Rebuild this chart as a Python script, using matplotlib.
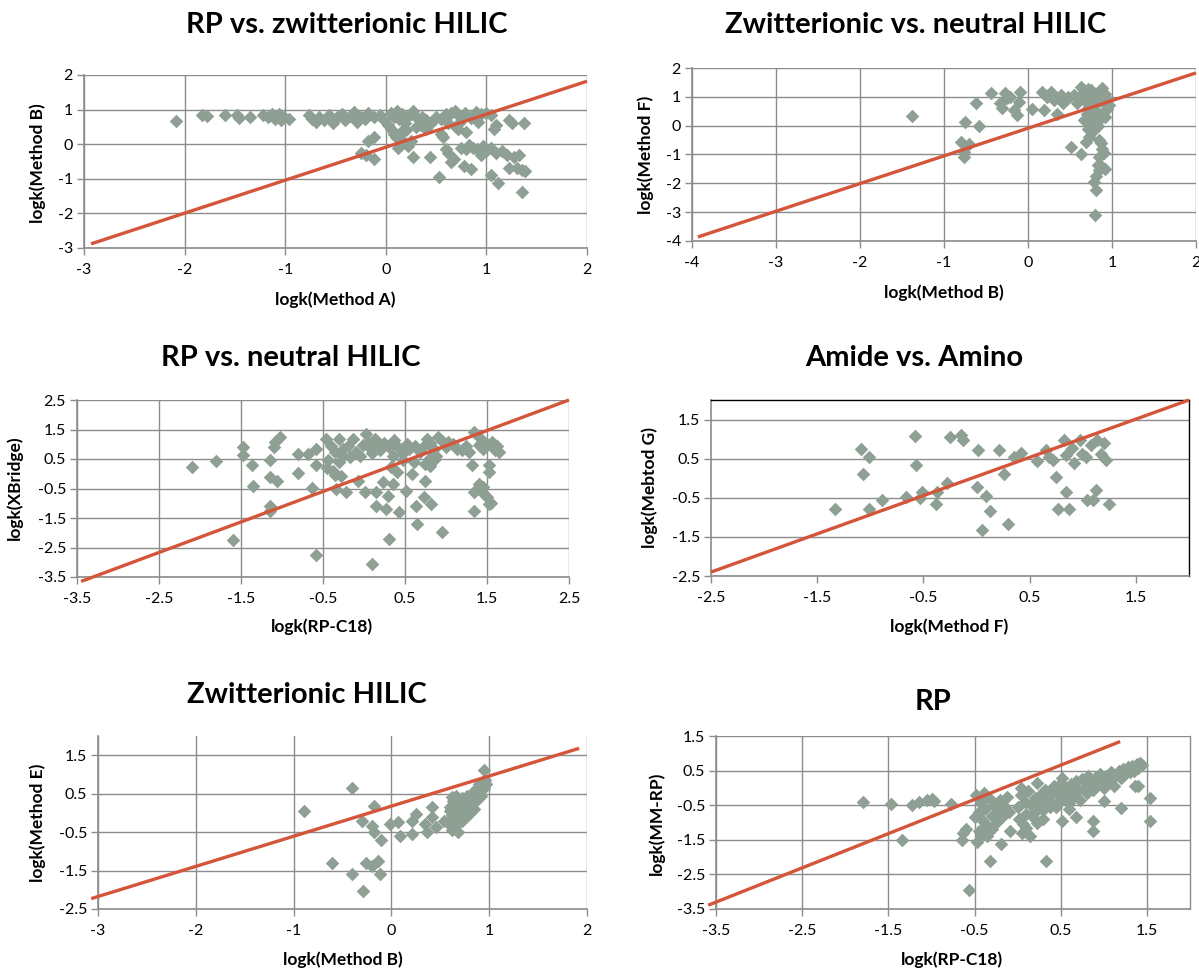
import matplotlib
matplotlib.use("Agg")
import matplotlib.pyplot as plt
from matplotlib.ticker import FixedLocator, FormatStrFormatter

# ---- data (logk values) ----

# RP vs. zwitterionic HILIC
rp_zwit_x = [-2.09, -1.83, -1.78, -1.60, -1.48, -1.46, -1.35, -1.22, -1.17, -1.13, -1.10, -1.06,
             -1.04, -1.01, -0.96, -0.76, -0.73, -0.69, -0.66, -0.61, -0.56, -0.52, -0.49, -0.44,
             -0.41, -0.36, -0.32, -0.29, -0.25, -0.21, -0.18, -0.12, -0.06, -0.02, 0.02, 0.05,
             0.08, 0.11, 0.13, 0.16, 0.19, 0.21, 0.25, 0.27, 0.31, 0.36, 0.40, 0.45, 0.50, 0.55,
             0.60, 0.65, 0.69, 0.74, 0.79, 0.85, 0.90, 0.95, 1.00, 1.05, 0.62, 0.92, 0.73,
             -0.25, -0.18, -0.12, -0.12, -0.20, 0.05, 0.08, 0.10, 0.12, 0.15, 0.18, 0.20, 0.22,
             0.25, 0.27, 0.30, 0.35, 0.40, 0.44, 0.53, 0.55, 0.57, 0.60, 0.62, 0.65, 0.68, 0.70,
             0.72, 0.75, 0.78, 0.80, 0.80, 0.83, 0.85, 0.87, 0.91, 0.95, 0.97, 1.00, 1.05, 1.05,
             1.08, 1.10, 1.10, 1.12, 1.16, 1.20, 1.22, 1.25, 1.22, 1.27, 1.30, 1.32, 1.35, 1.37,
             1.35, 1.38]
rp_zwit_y = [0.67, 0.85, 0.82, 0.84, 0.84, 0.77, 0.78, 0.84, 0.80, 0.86, 0.72, 0.88,
             0.70, 0.80, 0.74, 0.84, 0.72, 0.65, 0.80, 0.70, 0.84, 0.62, 0.80, 0.88,
             0.70, 0.82, 0.93, 0.65, 0.80, 0.74, 0.90, 0.78, 0.85, 0.70, 0.55, 0.90,
             0.80, 0.95, 0.74, 0.86, 0.62, 0.80, 0.88, 0.95, 0.75, 0.80, 0.70, 0.62, 0.80, 0.74,
             0.86, 0.90, 0.95, 0.80, 0.90, 0.76, 0.92, 0.86, 0.90, 0.84, 0.60, 0.65, 0.62,
             -0.26, 0.08, 0.20, -0.43, -0.32, 0.45, 0.30, 0.20, -0.10, 0.35, 0.05, 0.40, -0.05,
             0.10, -0.38, 0.50, 0.55, 0.45, -0.38, -0.95, 0.30, 0.20, -0.15, -0.25, -0.52, -0.44, 0.50,
             0.45, -0.10, -0.62, -0.15, 0.35, -0.02, -0.72, -0.10, -0.15, -0.30, -0.05, -0.20, -0.10, -0.88,
             0.45, 0.55, -0.25, -1.12, -0.20, -0.30, 0.70, 0.62, -0.68, -0.38, -0.70, -0.30, -0.75, 0.60,
             -1.38, -0.78]
rp_zwit_line = ([-2.93, 2.0], [-2.88, 1.82])

# Zwitterionic vs. neutral HILIC
zwit_neut_x = [-1.38, -0.62, -0.44, -0.75, -0.58, -0.80, -0.70, -0.76, -0.76, -0.33, -0.31, -0.27,
               -0.21, -0.17, -0.13, -0.09, -0.11, -0.25, 0.05, 0.17, 0.19, 0.27, 0.23, 0.31, 0.35,
               0.39, 0.47, 0.51, 0.55, 0.60, 0.63, 0.65, 0.67, 0.63, 0.75, 0.70, 0.83, 0.88, 0.94,
               0.92, 0.78, 0.67, 0.71, 0.73, 0.69, 0.85, 0.88, 0.85, 0.83, 0.92, 0.81, 0.79, 0.81,
               0.80, 0.92, 0.94, 0.90, 0.72, 0.75, 0.80, 0.85, 0.78, 0.74, 0.82, 0.86, 0.70, 0.77,
               0.83, 0.88, 0.96, 0.58, 0.48, 0.42, 0.66, 0.72, 0.87, 0.90, 0.86, 0.84]
zwit_neut_y = [0.33, 0.79, 1.15, 0.13, 0.00, -0.57, -0.63, -1.09, -0.90, 0.77, 0.60, 1.12,
               1.00, 0.53, 0.36, 1.17, 0.83, 0.95, 0.59, 1.17, 0.56, 1.17, 1.00, 0.88, 0.42,
               1.06, 0.91, -0.74, 1.05, 0.95, 1.35, 1.15, 0.88, -0.98, 1.23, 1.05, 1.12, 1.29, 0.94,
               1.10, 0.95, 0.19, -0.10, -0.40, -0.57, -0.51, -0.80, -1.09, -1.38, -1.50, -1.73, -1.97, -2.23,
               -3.09, 0.30, 0.59, 0.77, 0.60, 0.35, 0.50, 0.20, 0.10, 0.75, 0.80, 0.40, 0.40, -0.20,
               0.00, 1.00, 0.70, 0.80, 1.00, 0.80, 1.00, 1.28, -0.60, -0.95, -1.35, -1.55]
zwit_neut_line = ([-3.93, 2.0], [-3.86, 1.83])

# RP vs. neutral HILIC
rp_neut_x = [-2.10, -1.80, -1.60, -1.47, -1.48, -1.36, -1.35, -1.15, -1.15, -1.06, -1.15, -1.15,
             -1.10, -1.02, -1.08, -0.81, -0.80, -0.68, -0.63, -0.58, -0.58, -0.58, -0.46, -0.44,
             -0.38, -0.34, -0.28, -0.22, -0.30, -0.26, -0.13, -0.17, -0.07, 0.01, 0.03, -0.01,
             0.13, 0.15, 0.15, 0.10, 0.23, 0.27, 0.29, 0.31, 0.35, 0.37, 0.33, 0.43, 0.51, 0.53,
             0.59, 0.61, 0.65, 0.63, 0.74, 0.73, 0.82, 0.75, 0.77, 0.90, 0.95, 1.02, 1.14, 1.20,
             1.32, 1.34, 1.34, 1.34, 1.40, 1.46, 1.52, 1.52, 1.52, 1.56, 1.60, 1.40, 1.28,
             -0.40, -0.35, -0.20, -0.10, 0.05, 0.08, 0.18, 0.20, 0.25, 0.30, 0.40, 0.45, 0.48,
             0.55, 0.62, 0.68, 0.72, 0.80, 0.85, 0.88, 0.95, 1.00, 1.08, 1.25, 1.45, 1.50, 1.58,
             1.62, 1.65, 1.42, 0.10, -0.05, 0.35, 0.80, -0.25, 0.15,
             -0.45, -0.35, -0.30, 0.40, 0.47, 0.80, 0.85, 1.38, 1.50, 1.55, 1.45]
rp_neut_y = [0.23, 0.42, -2.24, 0.91, 0.63, 0.31, -0.40, 0.48, -0.11, -0.23, -1.08, -1.25,
             0.91, 1.25, 1.08, 0.68, 0.02, 0.68, -0.49, 0.85, 0.28, -2.76, 1.19, 0.45,
             0.11, -0.51, -0.06, -0.63, 1.19, 0.85, 1.19, 0.57, -0.23, -0.63, 1.36, 0.97,
             1.19, -0.63, -1.08, -3.07, -0.28, -1.19, -0.74, -2.22, -0.34, 1.14, 0.23, -1.31, -0.57, 1.02,
             0.00, 0.40, -1.70, -1.08, -0.23, -0.80, -1.02, 0.34, 1.19, 1.25, -1.99, 1.08, 0.85, 0.80,
             0.31, 1.42, -0.63, -1.25, -0.34, -0.68, -1.02, 0.28, 0.06, 1.08, 0.80, 0.97, 0.74,
             0.95, 0.75, 0.95, 0.75, 1.05, 0.85, 1.00, 0.80, 1.05, 0.90, 0.95, 0.80, 0.70,
             0.85, 0.95, 0.75, 0.90, 1.05, 0.85, 0.60, 1.10, 0.90, 1.00, 0.95, 0.85, 1.00, 0.90,
             0.95, 0.75, 1.20, 0.70, 0.60, 0.60, 0.55, 0.60, 0.90,
             0.20, -0.05, 0.40, 0.05, 0.45, 0.25, 0.45, -0.50, -0.80, -1.00, -0.45]
rp_neut_line = ([-3.45, 2.5], [-3.65, 2.5])

# Amide vs. Amino
amide_amino_x = [-1.33, -1.09, -1.07, -1.01, -1.01, -0.89, -0.66, -0.58, -0.57, -0.51, -0.53, -0.38,
                 -0.37, -0.28, -0.25, -0.15, -0.13, 0.01, 0.00, 0.05, 0.09, 0.13, 0.21, 0.26,
                 0.30, 0.35, 0.42, 0.57, 0.65, 0.68, 0.72, 0.75, 0.77, 0.82, 0.84, 0.84, 0.87,
                 0.90, 0.92, 0.97, 0.99, 1.03, 1.04, 1.10, 1.12, 1.13, 1.17, 1.20, 1.22, 1.25, 1.08]
amide_amino_y = [-0.79, 0.74, 0.11, 0.55, -0.79, -0.56, -0.49, 1.08, 0.34, -0.34, -0.51, -0.66,
                 -0.34, -0.13, 1.06, 1.10, 0.99, 0.72, -0.22, -1.32, -0.45, -0.83, 0.72, 0.11,
                 -1.18, 0.53, 0.65, 0.45, 0.72, 0.55, 0.46, 0.04, -0.79, 0.99, -0.34, 0.59, -0.79,
                 0.76, 0.38, 0.97, 0.63, 0.55, -0.56, -0.56, -0.30, 0.97, 0.63, 0.90, 0.46, -0.67, 0.84]
amide_amino_line = ([-2.5, 2.0], [-2.4, 2.0])

# Zwitterionic HILIC
zwit_hilic_x = [-0.89, -0.40, -0.61, -0.40, -0.29, -0.26, -0.20, -0.14, -0.12, -0.11, -0.18, -0.30,
                -0.20, -0.18, -0.01, 0.07, 0.09, 0.21, 0.21, 0.25, 0.34, 0.36, 0.42, 0.42, 0.46,
                0.54, 0.62, 0.62, 0.60,
                0.58, 0.60, 0.62, 0.63, 0.65, 0.65, 0.67, 0.68, 0.70, 0.70, 0.72, 0.72, 0.74,
                0.75, 0.76, 0.77, 0.78, 0.80, 0.80, 0.82, 0.83, 0.84, 0.85, 0.86, 0.87, 0.88,
                0.89, 0.90, 0.91, 0.92, 0.93, 0.94, 0.95, 0.96, 0.97, 0.95, 0.68, 0.62, 0.66]
zwit_hilic_y = [0.06, 0.64, -1.30, -1.60, -2.03, -1.30, -1.37, -1.24, -1.60, -0.70, 0.19, -0.20,
                -0.33, -0.50, -0.28, -0.24, -0.59, -0.54, -0.20, -0.02, -0.28, -0.50, -0.11, 0.15, -0.37,
                -0.20, -0.37, 0.41, 0.15,
                -0.25, 0.05, -0.45, 0.30, -0.10, 0.20, -0.30, 0.35, 0.00, 0.25, -0.20, 0.40, 0.10,
                0.30, -0.10, 0.45, 0.15, 0.35, 0.00, 0.50, 0.25, 0.10, 0.60, 0.40, 0.30, 0.65,
                0.50, 0.75, 0.60, 0.45, 0.70, 0.80, 0.65, 0.85, 0.75, 1.12, -0.50, -0.05, 0.45]
zwit_hilic_line = ([-3.07, 1.92], [-2.23, 1.68])

# RP
rp_mmrp_x = [-1.79, -1.47, -1.23, -1.14, -1.05, -0.99, -0.97, -0.77, -1.34, -0.56, -0.63, -0.64,
             -0.60, -0.47, -0.48, -0.39, -0.32, -0.19, -0.35, -0.09, 0.05, 0.14, 0.33, 0.52,
             0.68, 0.88, 0.88, 1.00, 1.20, 1.36, 1.54, 1.54,
             -0.45, -0.42, -0.40, -0.38, -0.36, -0.33, -0.30, -0.28, -0.25, -0.22, -0.20, -0.18,
             -0.15, -0.12, -0.10, -0.45, -0.42, -0.30, -0.50,
             0.00, 0.02, 0.04, 0.06, 0.08, 0.10, 0.12, 0.15, 0.18, 0.20, 0.22, 0.25, 0.28, 0.30,
             0.32, 0.35, 0.38, 0.40, 0.42, 0.45, 0.48, 0.50, 0.52, 0.55, 0.58, 0.60, 0.62, 0.65,
             0.68, 0.70, 0.72, 0.75, 0.78, 0.80, 0.82, 0.85, 0.88, 0.90, 0.92, 0.95, 0.98, 1.00,
             1.02, 1.05, 1.08, 1.10, 1.12, 1.15, 1.18, 1.20, 1.22, 1.25, 1.28, 1.30, 1.33, 1.35,
             1.38, 1.40, 1.42, 1.44, 1.40, 0.30, 0.10, 0.20, 0.60, 0.45, 0.23, 0.52, 0.04]
rp_mmrp_y = [-0.42, -0.47, -0.49, -0.42, -0.35, -0.33, -0.39, -0.46, -1.50, -2.96, -1.30, -1.50,
             -1.20, -1.55, -0.20, -0.15, -2.10, -1.63, -1.40, -1.24, -1.29, -1.40, -2.10, -0.97,
             -0.83, -0.95, -1.26, -0.37, -0.57, 0.06, -0.30, -0.95,
             -0.70, -0.45, -0.95, -0.60, -1.10, -0.30, -0.80, -0.50, -1.00, -0.65, -0.35, -0.85,
             -0.55, -0.25, -0.70, -1.25, -1.40, -1.20, -0.85,
             -0.55, -0.90, -0.20, -1.05, -0.40, -0.75, -0.10, -0.50, -0.85, -0.30, -1.00, -0.45, -0.15, -0.65,
             -0.05, -0.35, -0.55, -0.20, 0.05, -0.15, -0.40, 0.15, -0.10, -0.30, 0.00, -0.45, 0.10, -0.20,
             0.20, -0.05, -0.35, 0.25, 0.05, -0.15, 0.35, 0.15, -0.05, 0.30, 0.10, 0.40, 0.20, 0.00,
             0.35, 0.15, 0.45, 0.25, 0.05, 0.40, 0.50, 0.30, 0.55, 0.40, 0.60, 0.45, 0.62, 0.50,
             0.68, 0.58, 0.72, 0.65, 0.05, -0.90, -1.15, -0.70, -0.60, -0.55, 0.13, 0.30, -0.01]
rp_mmrp_line = ([-3.59, 1.19], [-3.39, 1.34])

# axis ticks for each panel
int_ticks_1 = [-3, -2, -1, 0, 1, 2]
int_ticks_2 = [-4, -3, -2, -1, 0, 1, 2]
half_ticks_3 = [-3.5, -2.5, -1.5, -0.5, 0.5, 1.5, 2.5]
half_ticks_4 = [-2.5, -1.5, -0.5, 0.5, 1.5]
half_ticks_6x = [-3.5, -2.5, -1.5, -0.5, 0.5, 1.5]
half_ticks_6y = [-3.5, -2.5, -1.5, -0.5, 0.5, 1.5]

# ---- styling ----
plt.rcParams["font.family"] = ["Lato", "DejaVu Sans"]
plt.rcParams["axes.unicode_minus"] = False

FIG_W, FIG_H = 1199, 969
MARKER = "#8E9F94"
LINE = "#D4553A"
GRID = "#8C8C8C"


def fig_pt(x, y):
    """ Pixel position (from top-left) to figure fraction. """
    return x / FIG_W, 1 - y / FIG_H


def draw_panel(fig, box, xs, ys, line, xlim, ylim, xticks, yticks,
               title, title_xy, xlabel, xlabel_xy, ylabel, ylabel_xy,
               vgrid=True, boxed=False, right_edge=False):
    l, r, t, b = box
    ax = fig.add_axes([l / FIG_W, 1 - b / FIG_H, (r - l) / FIG_W, (b - t) / FIG_H])
    ax.scatter(xs, ys, marker="D", s=48, color=MARKER, linewidths=0, zorder=3)
    ax.plot(line[0], line[1], color=LINE, lw=2.4, zorder=4, clip_on=False,
            solid_capstyle="butt")
    ax.set_xlim(xlim)
    ax.set_ylim(ylim)
    ax.xaxis.set_major_locator(FixedLocator(xticks))
    ax.yaxis.set_major_locator(FixedLocator(yticks))
    ax.xaxis.set_major_formatter(FormatStrFormatter("%g"))
    ax.yaxis.set_major_formatter(FormatStrFormatter("%g"))
    ax.set_axisbelow(True)
    ax.grid(axis="y", color=GRID, lw=1)
    if vgrid:
        ax.grid(axis="x", color=GRID, lw=1)
    ax.tick_params(direction="out", length=5, width=1, color=GRID,
                   labelsize=11.5, labelcolor="black")
    ax.tick_params(axis="x", pad=6)
    ax.tick_params(axis="y", pad=3)
    for side in ("left", "bottom"):
        ax.spines[side].set_color(GRID)
        ax.spines[side].set_linewidth(1.2)
    for side in ("top", "right"):
        if boxed:
            ax.spines[side].set_color("black")
            ax.spines[side].set_linewidth(1.0)
        else:
            ax.spines[side].set_visible(False)
    if right_edge:
        ax.spines["right"].set_visible(True)
        ax.spines["right"].set_color(GRID)
        ax.spines["right"].set_linewidth(1)
    fig.text(*fig_pt(*title_xy), title, ha="center", va="center",
             fontsize=21, fontweight="bold")
    fig.text(*fig_pt(*xlabel_xy), xlabel, ha="center", va="center",
             fontsize=12.5, fontweight="bold")
    fig.text(*fig_pt(*ylabel_xy), ylabel, ha="center", va="center",
             fontsize=12.5, fontweight="bold", rotation=90)
    return ax


fig = plt.figure(figsize=(FIG_W / 100, FIG_H / 100), dpi=100)

draw_panel(fig, (84, 587, 75, 248), rp_zwit_x, rp_zwit_y, rp_zwit_line,
           (-3, 2), (-3, 2), int_ticks_1, int_ticks_1,
           "RP vs. zwitterionic HILIC", (347, 25),
           "logk(Method A)", (335, 300), "logk(Method B)", (38, 163))

draw_panel(fig, (692, 1196, 68, 241), zwit_neut_x, zwit_neut_y, zwit_neut_line,
           (-4, 2), (-4, 2), int_ticks_2, int_ticks_2,
           "Zwitterionic vs. neutral HILIC", (916, 25),
           "logk(Method B)", (944, 293), "logk(Method F)", (646, 155))

draw_panel(fig, (77, 569, 400, 577), rp_neut_x, rp_neut_y, rp_neut_line,
           (-3.5, 2.5), (-3.5, 2.5), half_ticks_3, half_ticks_3,
           "RP vs. neutral HILIC", (291, 358),
           "logk(RP-C18)", (322, 627), "logk(XBridge)", (15, 488))

draw_panel(fig, (711, 1189, 400, 576), amide_amino_x, amide_amino_y, amide_amino_line,
           (-2.5, 2.0), (-2.5, 2.0), half_ticks_4, half_ticks_4,
           "Amide vs. Amino", (914, 358),
           "logk(Method F)", (949, 627), "logk(Mebtod G)", (650, 488),
           vgrid=False, boxed=True)

draw_panel(fig, (98, 587, 736, 909), zwit_hilic_x, zwit_hilic_y, zwit_hilic_line,
           (-3, 2), (-2.5, 2.0), int_ticks_1, half_ticks_4,
           "Zwitterionic HILIC", (307, 695),
           "logk(Method B)", (343, 960), "logk(Method E)", (38, 823))

draw_panel(fig, (716, 1190, 736, 909), rp_mmrp_x, rp_mmrp_y, rp_mmrp_line,
           (-3.5, 2.0), (-3.5, 1.5), half_ticks_6x, half_ticks_6y,
           "RP", (933, 702),
           "logk(RP-C18)", (952, 960), "logk(MM-RP)", (657, 823),
           right_edge=True)

fig.savefig("out.png", dpi=100)
